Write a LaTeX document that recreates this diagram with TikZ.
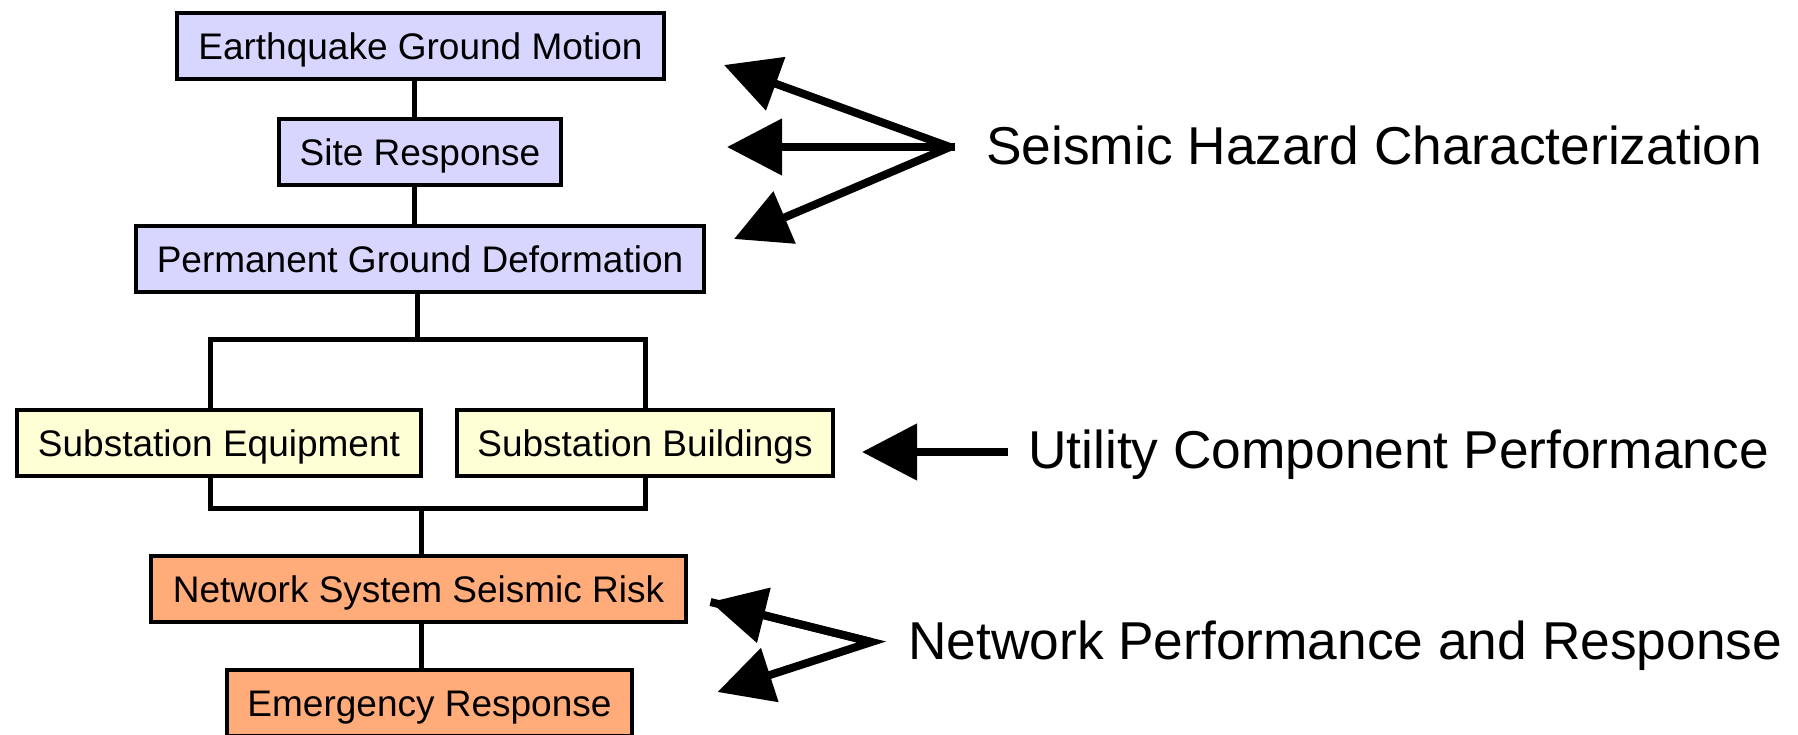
\documentclass[tikz,border=0pt]{standalone}
\usepackage{fontspec}
\setmainfont{Liberation Sans}
\usetikzlibrary{arrows.meta}

\definecolor{hazardfill}{RGB}{214,214,255}
\definecolor{compfill}{RGB}{255,255,214}
\definecolor{netfill}{RGB}{255,171,122}

\tikzset{
  stagebox/.style={draw=black, line width=4pt, rectangle, inner sep=0pt,
    minimum height=66pt, text height=31pt, text depth=4pt,
    font=\fontsize{37}{44}\selectfont},
  hazardbox/.style={stagebox, fill=hazardfill},
  compbox/.style={stagebox, fill=compfill},
  netbox/.style={stagebox, fill=netfill},
  conn/.style={draw=black, line width=5pt},
  pointer/.style={draw=black, line width=8pt,
    -{Triangle[length=55pt,width=55pt]}},
  caption/.style={anchor=base west, inner sep=0pt,
    font=\fontsize{53.3}{60}\selectfont}
}

\begin{document}
\begin{tikzpicture}[x=1pt,y=-1pt]
  \clip (0,0) rectangle (1798,734);
  \fill[white] (0,0) rectangle (1798,734);

  % chain of stages
  \node[hazardbox, minimum width=487pt] (egm)  at (420.5,46)  {Earthquake Ground Motion};
  \node[hazardbox, minimum width=282pt] (sr)   at (420,152)   {Site Response};
  \node[hazardbox, minimum width=568pt] (pgd)  at (420,259)   {Permanent Ground Deformation};
  \node[compbox,   minimum width=404pt] (se)   at (219,442.5) {Substation Equipment};
  \node[compbox,   minimum width=376pt] (sb)   at (645,442.5) {Substation Buildings};
  \node[netbox,    minimum width=535pt] (nssr) at (418.5,589) {Network System Seismic Risk};
  \node[netbox,    minimum width=405pt] (er)   at (429.5,703) {Emergency Response};

  % bracket rails
  \coordinate (toprail) at (0,339);
  \coordinate (botrail) at (0,508);

  % vertical links
  \draw[conn] ([xshift=-6pt]egm.south) -- ([xshift=-6pt]egm.south |- sr.north);
  \draw[conn] ([xshift=-6pt]sr.south) -- ([xshift=-6pt]sr.south |- pgd.north);
  \draw[conn] ([xshift=-3pt]pgd.south) -- ([xshift=-3pt]pgd.south |- toprail);
  \draw[conn] ([xshift=-9pt]se.north) |- (sb.north |- toprail) -- (sb.north);
  \draw[conn] ([xshift=-9pt]se.south) |- (sb.south |- botrail) -- (sb.south);
  \draw[conn] ([xshift=2.5pt]nssr.north |- botrail) -- ([xshift=2.5pt]nssr.north);
  \draw[conn] ([xshift=2.5pt]nssr.south) -- ([xshift=2.5pt]nssr.south |- er.north);

  % category captions
  \node[caption] (shc) at (986,164) {Seismic Hazard Characterization};
  \node[caption] (ucp) at (1028,468) {Utility Component Performance};
  \node[caption] (npr) at (908,659) {Network Performance and Response};

  % seismic hazard pointers
  \coordinate (shub) at (950,147);
  \coordinate (s1) at (724,65);
  \coordinate (s2) at (727,147);
  \coordinate (s3) at (734,239);
  \draw[pointer] (shub) -- (s1);
  \draw[pointer] (shub) -- (s2);
  \draw[pointer] (shub) -- (s3);
  \draw[draw=black, line width=8pt] (shub) -- (955,147);

  % utility component pointer
  \coordinate (ustart) at (1008,452);
  \coordinate (u1) at (862,452);
  \draw[pointer] (ustart) -- (u1);

  % network pointers
  \coordinate (nhub) at (871.5,642);
  \coordinate (n1) at (710.5,602);
  \coordinate (n2) at (717.5,692);
  \draw[pointer, line join=miter] (n1) -- (nhub) -- (n2);
  \draw[pointer] (nhub) -- (n1);
\end{tikzpicture}
\end{document}
